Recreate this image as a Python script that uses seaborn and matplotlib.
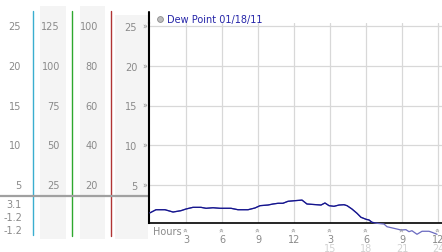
import numpy as np
import pandas as pd
import matplotlib
matplotlib.use("Agg")
import matplotlib.pyplot as plt
import matplotlib.transforms as mtransforms
from matplotlib.lines import Line2D
from matplotlib.patches import Rectangle
import seaborn as sns

# ---------------- data ----------------
hours = [0, 0.5, 1.25, 1.92, 2.58, 3.0, 3.58, 4.25, 4.67, 5.25, 5.83, 6.75, 7.33,
         8.17, 8.75, 9.17, 9.83, 10.25, 10.67, 11.08, 11.5, 12.08, 12.67, 13.08,
         14.25, 14.58, 14.92, 15.33, 15.75, 16.17, 16.42, 16.83, 17.25, 17.58,
         18.0, 18.25, 18.5, 18.92, 19.5, 19.75, 20.33, 20.92, 21.33, 21.58,
         21.83, 22.25, 22.67, 23.25, 23.5, 23.92]
dew_point = [1.5, 1.89, 1.89, 1.6, 1.77, 1.98, 2.19, 2.19, 2.07, 2.14, 2.07, 2.07,
             1.89, 1.89, 2.11, 2.4, 2.48, 2.61, 2.7, 2.7, 2.95, 3.03, 3.1, 2.61,
             2.48, 2.74, 2.4, 2.32, 2.48, 2.52, 2.4, 1.98, 1.44, 0.94, 0.69, 0.6,
             0.31, 0.18, 0.09, -0.25, -0.45, -0.66, -0.62, -0.87, -0.75, -1.2,
             -0.82, -0.82, -0.95, -1.2]
series_label = "Dew Point 01/18/11"

y_ticks = [5, 10, 15, 20, 25]
col1_labels = ["5", "10", "15", "20", "25"]
col2_labels = ["25", "50", "75", "100", "125"]
col3_labels = ["20", "40", "60", "80", "100"]
main_labels = ["5", "10", "15", "20", "25"]
stats_labels = ["3.1", "-1.2", "-1.2"]

x_ticks = [3, 6, 9, 12, 15, 18, 21, 24]
x_labels = ["3", "6", "9", "12", "3", "6", "9", "12"]
x_labels2 = ["", "", "", "", "15", "18", "21", "24"]

df = pd.DataFrame({"hour": hours, "dew": dew_point})

# ---------------- figure ----------------
W, H = 442, 253
sns.set_style("white")
plt.rcParams["font.family"] = ["DejaVu Sans"]
fig = plt.figure(figsize=(W / 100, H / 100), dpi=100)
fig.patch.set_facecolor("white")

def fx(x):
    return x / W

def fy(y):
    return 1 - y / H

# decorative background columns (figure coords)
for x0, x1, y0 in [(40, 66, 7), (80, 105, 7), (115, 148, 16)]:
    fig.patches.append(Rectangle((fx(x0), fy(240)), fx(x1) - fx(x0), fy(y0) - fy(240),
                                 transform=fig.transFigure, facecolor="#f4f4f4",
                                 edgecolor="none", zorder=-2))
for xv, col, yb in [(33, "#3aaed0", 236), (72, "#2ea82e", 237), (111, "#b03434", 237)]:
    fig.lines.append(Line2D([fx(xv), fx(xv)], [fy(12), fy(yb)], transform=fig.transFigure,
                            color=col, lw=1.0, zorder=-1))
# separator line
fig.lines.append(Line2D([0, fx(148)], [fy(197), fy(197)], transform=fig.transFigure,
                        color="#a0a0a0", lw=1.6, zorder=-1))

# main axes
ax = fig.add_axes([fx(149), fy(224), fx(442) - fx(149), fy(24) - fy(224)])
ax.set_zorder(1)
ax.set_facecolor("none")
ax.set_xlim((149 - 150) / 12, (442 - 150) / 12)
ax.set_ylim((225.75 - 224) / 7.95, (225.75 - 24) / 7.95)

for t in x_ticks:
    ax.axvline(t, color="#d8d8d8", lw=0.9, zorder=0)
for t in y_ticks:
    ax.axhline(t, color="#d8d8d8", lw=0.9, zorder=0)

# below-axis part lighter, then main line clipped
ax.plot(df["hour"], df["dew"], color="#6a6ac0", lw=0.9, clip_on=False, zorder=3)
sns.lineplot(data=df, x="hour", y="dew", ax=ax, color="#14148c", lw=0.9,
             zorder=4, estimator=None, sort=False)
ax.set_xlabel("")
ax.set_ylabel("")

for s in ["top", "right"]:
    ax.spines[s].set_visible(False)
ax.spines["left"].set_color("black")
ax.spines["left"].set_linewidth(1.5)
ax.spines["bottom"].set_color("black")
ax.spines["bottom"].set_linewidth(1.2)
# extend left axis line upward
fig.lines.append(Line2D([fx(148.8), fx(148.8)], [fy(13), fy(24.5)], transform=fig.transFigure,
                        color="black", lw=1.5, zorder=5))

ax.set_yticks(y_ticks)
ax.set_yticklabels(main_labels)
ax.tick_params(axis="y", length=0, pad=8.5, labelsize=7, labelcolor="#8a8a8a")
ax.set_xticks(x_ticks)
ax.set_xticklabels(x_labels)
ax.tick_params(axis="x", length=0, pad=8, labelsize=7, labelcolor="#8a8a8a")

# tick markers (small glyphs)
tr_y = mtransforms.blended_transform_factory(fig.transFigure, ax.transData)
for t in y_ticks:
    ax.text(fx(145), t, "»", transform=tr_y, fontsize=5.5, color="#8a8a8a",
            ha="center", va="center")
tr_x = mtransforms.blended_transform_factory(ax.transData, fig.transFigure)
for t in x_ticks:
    ax.text(t, fy(229.5), "»", transform=tr_x, fontsize=5.5, color="#8a8a8a",
            ha="center", va="center", rotation=90)
for t, lab in zip(x_ticks, x_labels2):
    if lab:
        ax.text(t, fy(249.5), lab, transform=tr_x, fontsize=7, color="#d2d2d2",
                ha="center", va="center")
fig.text(fx(153), fy(232), "Hours", fontsize=7, color="#8a8a8a", ha="left", va="center")

# left scale columns
for xr, labs in [(21, col1_labels), (60, col2_labels), (98, col3_labels)]:
    for t, lab in zip(y_ticks, labs):
        ax.text(fx(xr), t, lab, transform=tr_y, fontsize=7, color="#8a8a8a",
                ha="right", va="center")
for yy, lab in zip([205, 218, 231], stats_labels):
    fig.text(fx(22), fy(yy), lab, fontsize=7, color="#8a8a8a", ha="right", va="center")

# legend
fig.lines.append(Line2D([fx(160)], [fy(20)], transform=fig.transFigure, marker="o",
                        markersize=4.2, markerfacecolor="#bdbdbd",
                        markeredgecolor="#8c8c8c", markeredgewidth=0.6, ls="none"))
fig.text(fx(167), fy(20), series_label, fontsize=7, color="#2525a8",
         ha="left", va="center")

fig.savefig("out.png", dpi=100, facecolor="white")
